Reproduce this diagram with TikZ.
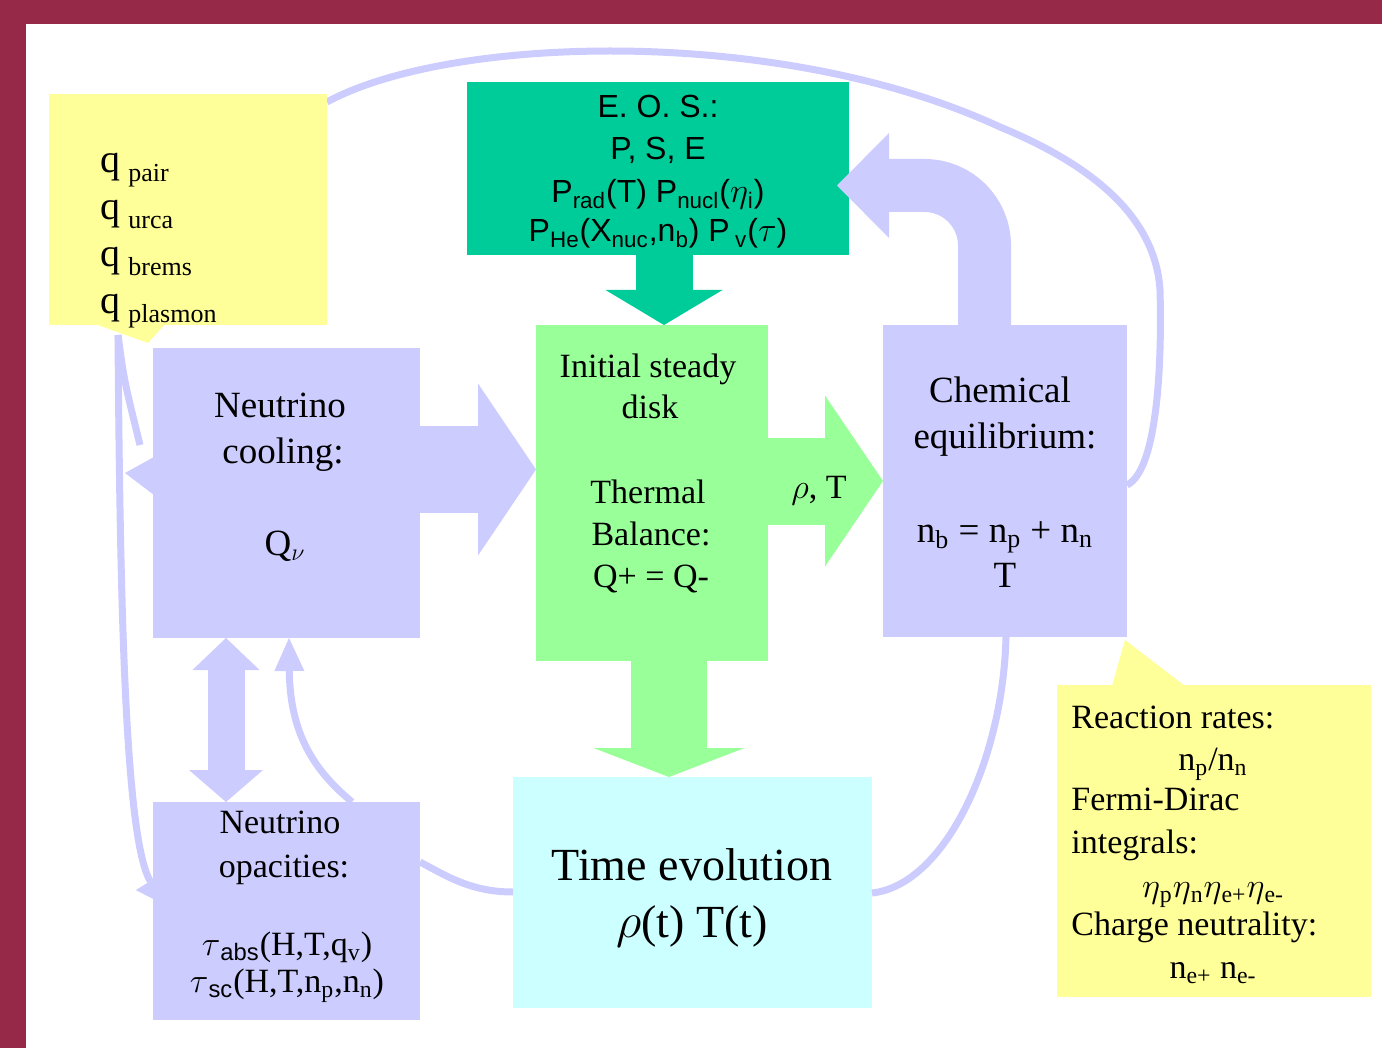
\documentclass[tikz,border=0pt]{standalone}
\usepackage{fontspec}
\setmainfont{Liberation Serif}
\setsansfont{Liberation Sans}
\usetikzlibrary{arrows.meta, fit, calc}
\definecolor{frameRed}{HTML}{962848}
\definecolor{lav}{HTML}{CCCCFF}
\definecolor{noteYellow}{HTML}{FFFF99}
\definecolor{eosGreen}{HTML}{00CC99}
\definecolor{diskGreen}{HTML}{99FF99}
\definecolor{evoCyan}{HTML}{CCFFFF}
\newcommand{\setfs}[1]{\fontsize{#1}{#1}\selectfont}
\tikzset{
  box/.style={inner sep=0pt, outer sep=0pt},
  txt/.style={inner sep=0pt, anchor=base},
  link/.style={lav, line width=3.5pt},
  tip/.style n args={2}{-{Triangle[width=#1, length=#2, line width=0pt]}}
}

\begin{document}
\begin{tikzpicture}[x=0.5pt, y=-0.5pt]
    \useasboundingbox (0,0) rectangle (1382,1048);
    \fill[frameRed] (0,0) rectangle (1382,1048);
    \fill[white] (26,24) rectangle (1382,1048);

    % thin feedback lines
    \draw[link] (327,102) .. controls (450,35) and (780,25) .. (1000,127)
        .. controls (1080,160) and (1155,210) .. (1160,290)
        .. controls (1162,360) and (1158,470) .. (1127,485);
    \draw[link] (118,335) .. controls (124,380) .. (140,445);
    \draw[link, tip={17pt}{14pt}] (118,335) .. controls (120,600) and (125,840) .. (165,905);

    % boxes
    \node[box, fill=noteYellow, fit={(49,94) (327,325)}] (qbox) {};
    \fill[noteYellow] (95,324) -- (165,324) -- (148,343) -- cycle;
    \node[box, fill=eosGreen, fit={(467,82) (849,255)}] (eos) {};
    \node[box, fill=lav, fit={(153,348) (420,638)}] (cool) {};
    \node[box, fill=diskGreen, fit={(536,325) (768,661)}] (disk) {};
    \node[box, fill=lav, fit={(883,325) (1127,637)}] (chem) {};
    \node[box, fill=lav, fit={(153,802) (420,1020)}] (opac) {};
    \node[box, fill=evoCyan, fit={(513,777) (872,1008)}] (evo) {};
    \node[box, fill=noteYellow, fit={(1057,685) (1371,997)}] (rates) {};
    \fill[noteYellow] (1112,686) -- (1185,686) -- (1125,640) -- cycle;
    \fill[lav] (125,473) -- (154,457) -- (154,495) -- cycle;
    \coordinate (eosin) at (837,185.5);

    % block arrows
    \draw[lav, line width=43.5pt, tip={86pt}{29pt}] (cool.east |- 0,469.5) -- (disk.west |- 0,469.5);
    \draw[diskGreen, line width=43.5pt, tip={85.5pt}{29pt}] (disk.east |- 0,481) -- (chem.west |- 0,481);
    \draw[eosGreen, line width=28.5pt, tip={58.5pt}{17.5pt}] (eos.south -| 664,0) -- (disk.north -| 664,0);
    \draw[diskGreen, line width=38pt, tip={75.5pt}{14.5pt}] (disk.south -| 669,0) -- (evo.north -| 669,0);
    \draw[lav, line width=18.5pt, {Triangle[width=33.5pt, length=16pt, line width=0pt]}-{Triangle[width=37pt, length=16pt, line width=0pt]}]
        (cool.south -| 226,0) -- (opac.north -| 226,0);
    \draw[lav, line width=26.5pt, rounded corners=30pt, tip={52.5pt}{26pt}] (chem.north -| 984.5,0) |- (eosin);

    % curved links
    \draw[link, tip={15pt}{16.5pt}] (opac.north -| 352,0) .. controls (320,775) and (290,740) .. (cool.south -| 289,0);
    \draw[link] (evo.west |- 0,892) .. controls (470,892) and (445,875) .. (opac.east |- 0,862);
    \draw[link] (evo.east |- 0,893) .. controls (945,885) and (1003,760) .. (chem.south -| 1006,0);

    % texts
    \foreach \s [count=\i from 0] in {pair, urca, brems, plasmon}
        \node[txt, anchor=base west, font=\setfs{20}] (q\s) at (100,{173+46.7*\i}) {q\hspace{4pt}\raisebox{-4.5pt}{\setfs{13}\s}};

    \begin{scope}[font=\sffamily\setfs{16}]
        \node[txt] (eos1) at (658,118) {E. O. S.:};
        \node[txt] (eos2) at (658,160) {P, S, E};
        \node[txt] (eos3) at (658,203) {P\textsubscript{rad}(T) P\textsubscript{nucl}($\eta$\textsubscript{i})};
        \node[txt] (eos4) at (658,242) {P\textsubscript{He}(X\textsubscript{nuc},n\textsubscript{b}) P\,\textsubscript{v}($\tau$)};
    \end{scope}

    \begin{scope}[font=\setfs{17}]
        \node[txt] (disk1) at (648,378) {Initial steady};
        \node[txt] (disk2) at (650,418) {disk};
        \node[txt] (disk3) at (648,503) {Thermal};
        \node[txt] (disk4) at (651,545) {Balance:};
        \node[txt] (disk5) at (651,587) {Q+ = Q-};
        \node[txt] (rhoT) at (819,498) {$\rho$, T};
    \end{scope}

    \begin{scope}[font=\setfs{18.5}]
        \node[txt] (cool1) at (280,417) {Neutrino};
        \node[txt] (cool2) at (283,463) {cooling:};
        \node[txt] (cool3) at (285,555) {Q$_\nu$};
        \node[txt] (chem1) at (1000,402) {Chemical};
        \node[txt] (chem2) at (1005,448) {equilibrium:};
        \node[txt] (chem3) at (1005,542) {n\textsubscript{b} = n\textsubscript{p} + n\textsubscript{n}};
        \node[txt] (chem4) at (1005,587) {T};
    \end{scope}

    \begin{scope}[font=\setfs{23}]
        \node[txt] (evo1) at (692,880) {Time evolution};
        \node[txt] (evo2) at (692,937) {$\rho$(t) T(t)};
    \end{scope}

    \begin{scope}[font=\setfs{17}]
        \node[txt] (opac1) at (280,833) {Neutrino};
        \node[txt] (opac2) at (284,877) {opacities:};
        \node[txt] (opac3) at (287,955) {$\tau$\textsubscript{\sffamily abs}(H,T,q\textsubscript{v})};
        \node[txt] (opac4) at (287,992) {$\tau$\textsubscript{\sffamily sc}(H,T,n\textsubscript{p},n\textsubscript{n})};
    \end{scope}

    \begin{scope}[font=\setfs{17}]
        \node[txt, anchor=base west] (rate1) at (1071,728) {Reaction rates:};
        \node[txt] (rate2) at (1213,770) {n\textsubscript{p}/n\textsubscript{n}};
        \node[txt, anchor=base west] (rate3) at (1071,810) {Fermi-Dirac};
        \node[txt, anchor=base west] (rate4) at (1071,853) {integrals:};
        \node[txt] (rate5) at (1213,897) {$\eta$\textsubscript{p}$\eta$\textsubscript{n}$\eta$\textsubscript{e+}$\eta$\textsubscript{e-}};
        \node[txt, anchor=base west] (rate6) at (1071,935) {Charge neutrality:};
        \node[txt] (rate7) at (1213,978) {n\textsubscript{e+} n\textsubscript{e-}};
    \end{scope}
\end{tikzpicture}
\end{document}
